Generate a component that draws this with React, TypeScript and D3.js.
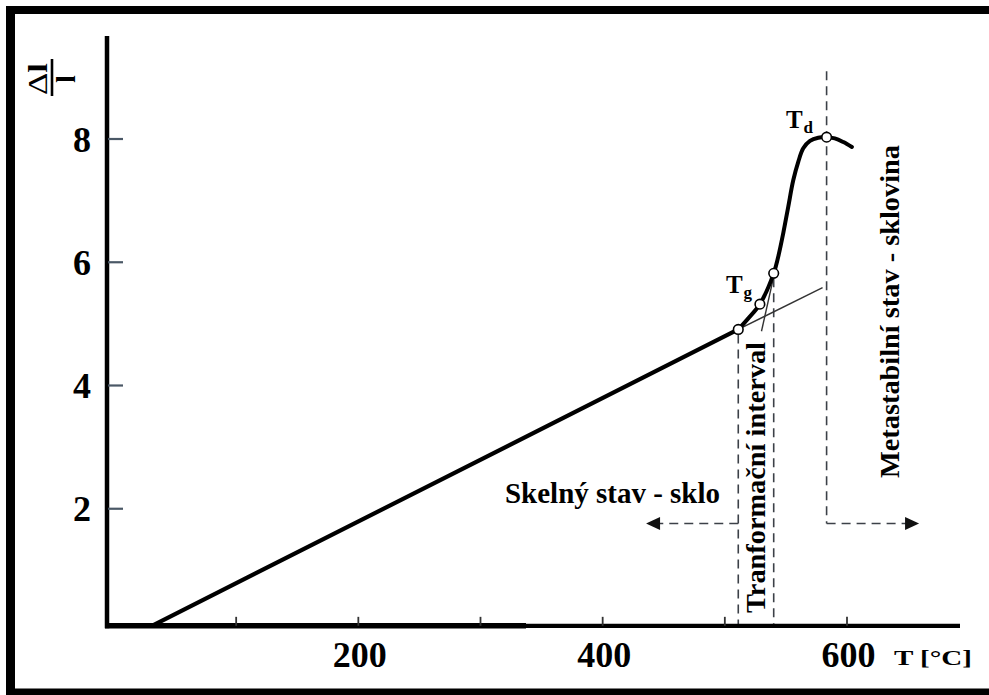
import React from "react";
import * as d3 from "d3";

const W = 989;
const H = 695;

// Axis ticks
const xTicks = [100, 200, 300, 400, 500, 600];
const xTickLabels = [200, 400, 600];
const yTicks = [2, 4, 6, 8];

// Glassy state: straight thermal-expansion segment (T in °C, Δl/l)
const glassT = [31, 511];
const glassV = [0.1, 4.91];

// Transformation range up to the dilatometric softening point and beyond
const curveT = [511, 519.2, 528.7, 540.0, 543.7, 547.8, 551.9, 556.0, 560.1, 564.2, 569.7, 576.5, 583.3, 590.0, 597.0, 604.0];
const curveV = [4.91, 5.09, 5.32, 5.82, 6.09, 6.47, 6.9, 7.33, 7.63, 7.85, 7.97, 8.02, 8.03, 8.01, 7.95, 7.87];

// Marked points: glass line end, Tg, end of transformation interval, Td
const markT = [511, 528.7, 540.0, 583.3];
const markV = [4.91, 5.32, 5.82, 8.03];

// Thin tangent lines
const tangentGlassT = [511, 580];
const tangentGlassV = [4.91, 5.59];
const tangentSteepT = [530, 541.5];
const tangentSteepV = [4.88, 5.9];

// Interval boundaries and region arrows
const Y_FLOOR = 0.1;
const TD_LINE_TOP = 9.1;
const ARROW_V = 1.76;
const LEFT_ARROW_T = 435.5;
const RIGHT_ARROW_T = 659;

const FONT = "'Liberation Serif', 'Times New Roman', serif";

const x = d3.scaleLinear().domain([0, 600]).range([114, 847]);
const y = d3.scaleLinear().domain([0, 8]).range([632, 139]);

const zip = (a: number[], b: number[]): [number, number][] => a.map((t, i) => [t, b[i]]);

const straight = d3
  .line<[number, number]>()
  .x((d) => x(d[0]))
  .y((d) => y(d[1]))
  .curve(d3.curveLinear);

const smooth = d3
  .line<[number, number]>()
  .x((d) => x(d[0]))
  .y((d) => y(d[1]))
  .curve(d3.curveCatmullRom.alpha(0.5));

const DASH = "9 6";
const DASH_COLOR = "#3c4148";

export default function App() {
  const axisY = y(Y_FLOOR);
  const axisX = 107;
  const xEnd = 960;

  const tdT = markT[3];
  const leftBoundT = markT[0];
  const rightBoundT = markT[2];

  const arrowY = y(ARROW_V);
  const lTip = x(LEFT_ARROW_T);
  const rTip = x(RIGHT_ARROW_T);

  return (
    <svg width={W} height={H} style={{ position: "absolute", left: 0, top: 0, background: "#fff" }}>
      <rect x={0} y={0} width={W} height={H} fill="#fff" />
      {/* frame */}
      <rect x={6} y={6} width={W - 6} height={8} fill="#000" />
      <rect x={6} y={6} width={9} height={H - 6} fill="#000" />
      <rect x={6} y={688.5} width={W - 6} height={7} fill="#000" />

      {/* interval boundaries */}
      <line x1={x(leftBoundT)} x2={x(leftBoundT)} y1={y(markV[0]) + 5} y2={axisY} stroke={DASH_COLOR} strokeWidth={1.6} strokeDasharray={DASH} />
      <line x1={x(rightBoundT)} x2={x(rightBoundT)} y1={y(markV[2]) + 5} y2={axisY} stroke={DASH_COLOR} strokeWidth={1.6} strokeDasharray={DASH} />
      <line x1={x(tdT)} x2={x(tdT)} y1={y(TD_LINE_TOP)} y2={arrowY} stroke={DASH_COLOR} strokeWidth={1.6} strokeDasharray={DASH} />

      {/* region arrows */}
      <line x1={x(leftBoundT)} x2={lTip + 12} y1={arrowY} y2={arrowY} stroke={DASH_COLOR} strokeWidth={1.6} strokeDasharray={DASH} />
      <path d={`M${lTip},${arrowY} L${lTip + 14},${arrowY - 6.5} L${lTip + 14},${arrowY + 6.5} Z`} fill="#111" />
      <line x1={x(tdT)} x2={rTip - 12} y1={arrowY} y2={arrowY} stroke={DASH_COLOR} strokeWidth={1.6} strokeDasharray={DASH} />
      <path d={`M${rTip},${arrowY} L${rTip - 14},${arrowY - 6.5} L${rTip - 14},${arrowY + 6.5} Z`} fill="#111" />

      {/* tangents */}
      <path d={straight(zip(tangentGlassT, tangentGlassV)) || ""} fill="none" stroke="#333" strokeWidth={1.4} />
      <path d={straight(zip(tangentSteepT, tangentSteepV)) || ""} fill="none" stroke="#333" strokeWidth={1.4} />

      {/* expansion curve */}
      <path d={straight(zip(glassT, glassV)) || ""} fill="none" stroke="#000" strokeWidth={4.2} strokeLinecap="round" />
      <path d={smooth(zip(curveT, curveV)) || ""} fill="none" stroke="#000" strokeWidth={4} strokeLinecap="round" strokeLinejoin="round" />

      {markT.map((t, i) => (
        <circle key={i} cx={x(t)} cy={y(markV[i])} r={4.8} fill="#fff" stroke="#000" strokeWidth={1.6} />
      ))}

      {/* axes */}
      <line x1={axisX} x2={axisX} y1={36} y2={axisY + 2.5} stroke="#000" strokeWidth={4.5} />
      <line x1={axisX - 2} x2={526} y1={axisY} y2={axisY} stroke="#000" strokeWidth={5.5} />
      <line x1={526} x2={xEnd} y1={axisY} y2={axisY} stroke="#000" strokeWidth={4.2} />

      {yTicks.map((v) => (
        <g key={v}>
          <line x1={axisX + 1} x2={123} y1={y(v)} y2={y(v)} stroke="#4a5866" strokeWidth={2.2} />
          <text x={91} y={y(v) + 12.5} textAnchor="end" fontFamily={FONT} fontWeight="bold" fontSize={36} fill="#000">
            {v}
          </text>
        </g>
      ))}

      {xTicks.map((t) => (
        <line key={t} x1={x(t)} x2={x(t)} y1={axisY} y2={axisY - 9} stroke="#333" strokeWidth={1.8} />
      ))}
      {xTickLabels.map((t) => (
        <text key={t} x={x(t) + 1.5} y={667} textAnchor="middle" fontFamily={FONT} fontWeight="bold" fontSize={36} fill="#000">
          {t}
        </text>
      ))}
      <text x={894} y={665} fontFamily={FONT} fontWeight="bold" fontSize={20} textLength={78} lengthAdjust="spacingAndGlyphs" fill="#000">
        T [°C]
      </text>

      {/* y axis label: Δl / l */}
      <g transform="translate(52,77) rotate(-90)">
        <text x={-2} y={-5} textAnchor="middle" fontFamily={FONT} fontSize={27} textLength={32} lengthAdjust="spacingAndGlyphs" fill="#000">
          <tspan fontWeight="normal">Δ</tspan>
          <tspan fontWeight="bold">l</tspan>
        </text>
        <line x1={-19} x2={18} y1={0} y2={0} stroke="#000" strokeWidth={2.6} />
        <text x={-2} y={23} textAnchor="middle" fontFamily={FONT} fontWeight="bold" fontSize={27} fill="#000">
          l
        </text>
      </g>

      {/* point labels */}
      <text x={786} y={128} fontFamily={FONT} fontWeight="bold" fontSize={25} fill="#000">T</text>
      <text x={803.5} y={133} fontFamily={FONT} fontWeight="bold" fontSize={17} fill="#000">d</text>
      <text x={726} y={293} fontFamily={FONT} fontWeight="bold" fontSize={25} fill="#000">T</text>
      <text x={743.5} y={298} fontFamily={FONT} fontWeight="bold" fontSize={17} fill="#000">g</text>

      {/* region labels */}
      <text x={505} y={503} fontFamily={FONT} fontWeight="bold" fontSize={29} textLength={215} lengthAdjust="spacingAndGlyphs" fill="#000">
        Skelný stav - sklo
      </text>
      <text transform="translate(765,477.5) rotate(-90)" textAnchor="middle" fontFamily={FONT} fontWeight="bold" fontSize={28} textLength={271} lengthAdjust="spacingAndGlyphs" fill="#000">
        Tranformační interval
      </text>
      <text transform="translate(899,311.5) rotate(-90)" textAnchor="middle" fontFamily={FONT} fontWeight="bold" fontSize={28} textLength={333} lengthAdjust="spacingAndGlyphs" fill="#000">
        Metastabilní stav - sklovina
      </text>
    </svg>
  );
}
